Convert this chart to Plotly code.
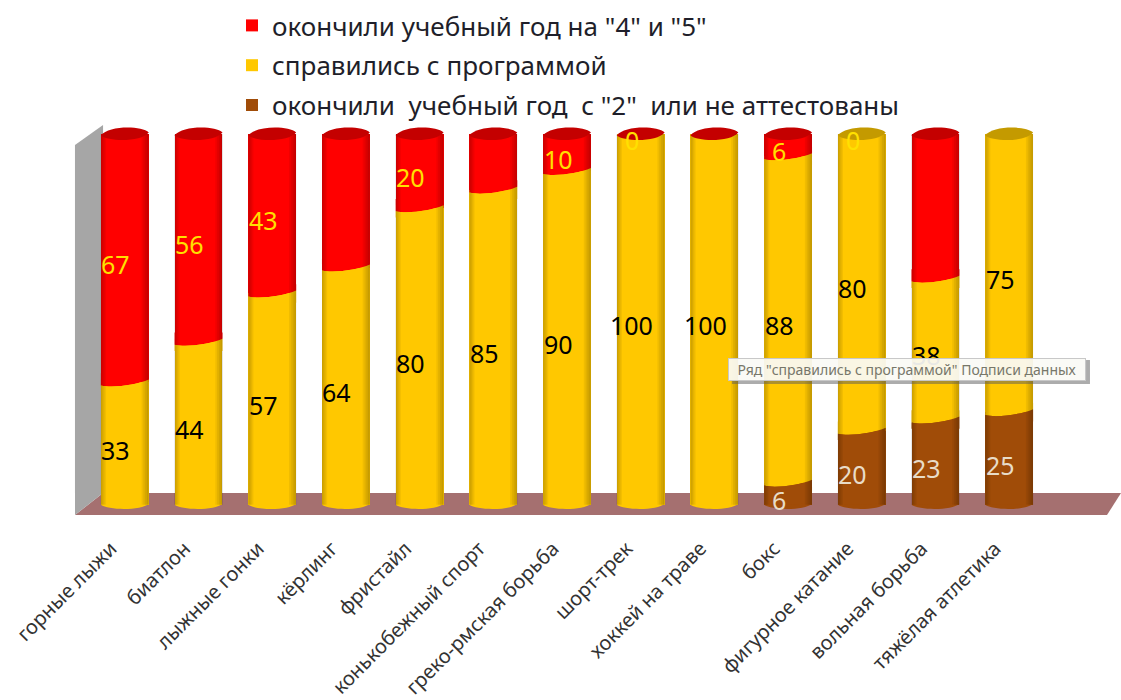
import plotly.graph_objects as go

# ---------- data ----------
categories = ["горные лыжи", "биатлон", "лыжные гонки", "кёрлинг", "фристайл",
              "конькобежный спорт", "греко-рмская борьба", "шорт-трек",
              "хоккей на траве", "бокс", "фигурное катание", "вольная борьба",
              "тяжёлая атлетика"]
red_values = [67, 56, 43, 36, 20, 15, 10, 0, 0, 6, 0, 39, 0]
yellow_values = [33, 44, 57, 64, 80, 85, 90, 100, 100, 88, 80, 38, 75]
brown_values = [0, 0, 0, 0, 0, 0, 0, 0, 0, 6, 20, 23, 25]
red_labels = [67, 56, 43, None, 20, None, 10, 0, None, 6, 0, None, None]
yellow_labels = [33, 44, 57, 64, 80, 85, 90, 100, 100, 88, 80, 38, 75]
brown_labels = [None, None, None, None, None, None, None, None, None, 6, 20, 23, 25]
series_names = ['окончили учебный год на "4" и "5"',
                "справились с программой",
                'окончили  учебный год  с "2"  или не аттестованы']
tooltip_text = 'Ряд "справились с программой" Подписи данных'

# ---------- style ----------
W, H = 1121, 700
L_M, R_M, T_M, B_M = 88, 75, 121, 184
RED, GOLD, BROWN = "#ff0000", "#ffc800", "#a04c08"
CAP_RED, CAP_GOLD = "#c40000", "#c49a00"
red_cap_idx = {0, 1, 2, 3, 4, 5, 6, 7, 8, 9, 11}
BW = 0.65
FONT = "Noto Sans"
HW = BW / 2
PX = 1 / 73.7


def px(x, y):
    return (x - L_M) / (W - L_M - R_M), 1 - (y - T_M) / (H - T_M - B_M)


def poly(points, color, layer="below"):
    d = "M" + " L".join(f"{a:.4f},{b:.4f}" for a, b in (px(*p) for p in points)) + " Z"
    return dict(type="path", path=d, xref="paper", yref="paper", fillcolor=color,
                line_width=0, layer=layer)


def dpath(d, color):
    return dict(type="path", path=d, xref="x", yref="y", fillcolor=color, line_width=0,
                layer="above")


shapes = [
    poly([(75, 515), (103, 493), (1121, 493), (1107, 515)], "#a57070"),
    poly([(75, 145), (103, 125), (103, 493), (75, 515)], "#a6a6a6"),
]


def curve(c, v):
    l, r = c - HW, c + HW
    return (f"{l},{v - .8} C{l + HW * .5},{v - 1.6} {r - HW * .5},{v - .6} {r},{v + .8}")


for i in range(len(categories)):
    l, r = i - HW, i + HW
    segs = [(brown_values[i], BROWN), (yellow_values[i], GOLD), (red_values[i], RED)]
    segs = [s for s in segs if s[0] > 0]
    cum = 0
    for k, (v, col) in enumerate(segs[:-1]):
        cum += v
        up = segs[k + 1][1]
        shapes.append(dpath(f"M{l},{cum + 2.5} L{curve(i, cum)} L{r},{cum + 2.5} Z", up))
        shapes.append(dpath(f"M{l},{cum - 2.5} L{curve(i, cum)} L{r},{cum - 2.5} Z", col))
    # rounded foot of the cylinder
    shapes.append(dpath(f"M{l},0 C{l + .1},-1.5 {r - .1},-1.6 {r},.3 Z", segs[0][1]))
    # darker rims give the cylinder its volume
    for n in range(4):
        shapes.append(dict(type="rect", xref="x", yref="y", x0=l, x1=l + (n + 1) * 1.3 * PX,
                           y0=0, y1=100, fillcolor="#000000", opacity=.05, line_width=0,
                           layer="above"))
        shapes.append(dict(type="rect", xref="x", yref="y", x0=r - (n + 1) * 1.8 * PX, x1=r,
                           y0=0, y1=100, fillcolor="#000000", opacity=.06, line_width=0,
                           layer="above"))
    cap = CAP_RED if i in red_cap_idx else CAP_GOLD
    shapes.append(dpath(
        f"M{l},99.6 C{l + .1},102.3 {r - .1},102.3 {r},100.4 "
        f"C{r - .1},97.8 {l + .1},97.9 {l},99.6 Z", cap))

# tooltip shadow
shapes.append(poly([(1086, 360), (1090, 360), (1090, 384), (1086, 384)],
                   "rgba(90,90,90,.5)", layer="above"))
shapes.append(poly([(732, 380), (1086, 380), (1086, 384), (732, 384)],
                   "rgba(90,90,90,.5)", layer="above"))

annotations = []


def add_labels(labels, base, values, color):
    for i, t in enumerate(labels):
        if t is None:
            continue
        annotations.append(dict(x=i, y=base[i] + values[i] / 2 if values[i] else 100,
                                xref="x", yref="y", text=str(t), showarrow=False,
                                xshift=-9, yshift=-6,
                                font=dict(family=FONT, size=25, color=color)))


zero = [0] * len(categories)
top_yellow = [b + y for b, y in zip(brown_values, yellow_values)]
add_labels(brown_labels, zero, brown_values, "#e8dcc8")
add_labels(yellow_labels, brown_values, yellow_values, "#000000")
add_labels(red_labels, top_yellow, red_values, "#ffe000")

tx, ty = px(907, 369)
annotations.append(dict(x=tx, y=ty, xref="paper", yref="paper", text=tooltip_text,
                        xanchor="center", yanchor="middle", showarrow=False, width=354, height=19,
                        bgcolor="rgba(250,250,245,.93)", bordercolor="#c8c8c8",
                        borderwidth=1, font=dict(family=FONT, size=14, color="#77776a")))

fig = go.Figure()
for name, vals, col, rank in [(series_names[2], brown_values, BROWN, 3),
                              (series_names[1], yellow_values, GOLD, 2),
                              (series_names[0], red_values, RED, 1)]:
    fig.add_trace(go.Bar(name=name, x=categories, y=vals, marker=dict(color=col, line_width=0),
                         width=BW, legendgroup=str(rank), legendrank=rank))

lx, ly = px(232, 2)
fig.update_layout(
    width=W, height=H, barmode="stack", paper_bgcolor="white", plot_bgcolor="rgba(0,0,0,0)",
    margin=dict(l=L_M, r=R_M, t=T_M, b=B_M, autoexpand=False), showlegend=True,
    legend=dict(x=lx, y=ly, xanchor="left", yanchor="top", traceorder="grouped",
                tracegroupgap=3, bgcolor="rgba(0,0,0,0)", itemclick=False,
                font=dict(family=FONT, size=26, color="#1f1f2a")),
    xaxis=dict(range=[-.5, 12.5], showgrid=False, zeroline=False, showline=False,
               tickangle=-45, ticks="outside", ticklen=12, tickcolor="rgba(0,0,0,0)",
               ticklabelshift=-14,
               tickfont=dict(family=FONT, size=20, color="#333333"), tickmode="array",
               tickvals=categories, ticktext=categories, categoryorder="array",
               categoryarray=categories),
    yaxis=dict(range=[-3, 103.5], visible=False),
    shapes=shapes, annotations=annotations, hovermode=False,
)
fig.write_html("out.html", config=dict(displayModeBar=False),
               post_script="document.body.style.margin='0';document.body.style.overflow='hidden';")
